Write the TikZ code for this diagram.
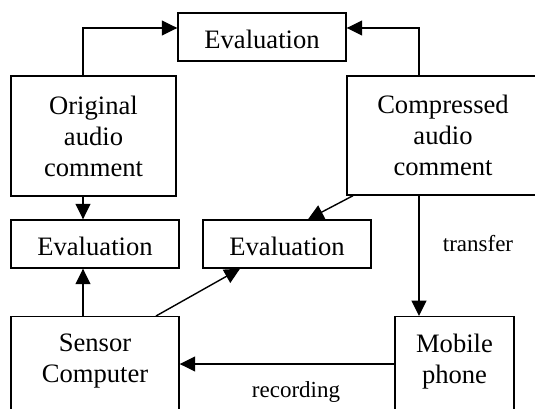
\documentclass[tikz,border=0pt]{standalone}
\usepackage{fontspec}
\setmainfont{Liberation Serif}
\usetikzlibrary{arrows.meta}

\tikzset{
  box/.style={draw, line width=1.4pt, inner sep=0pt, align=center,
    font=\fontsize{26.6}{31}\selectfont},
  evalbox/.style={box, minimum width=168pt, minimum height=48pt,
    text height=23pt, text depth=0pt},
  boxtext/.style={inner sep=0pt, align=center, font=\fontsize{26.6}{31}\selectfont},
  lbl/.style={inner sep=0pt, font=\fontsize{23}{27}\selectfont},
  arr/.style={line width=1.4pt, -{Triangle[length=15.5pt,width=15pt]}},
}

\begin{document}
\begin{tikzpicture}[x=1pt, y=-1pt]
  \useasboundingbox (0,0) rectangle (535,409);
  \clip (0,0) rectangle (535,409);

  % boxes
  \node[evalbox] (evTop) at (262,37) {Evaluation};
  \node[box, minimum width=165pt, minimum height=120pt] (orig) at (93.5,136)
    {Original\\audio\\comment};
  \node[box, minimum width=192pt, minimum height=119pt] (comp) at (443,135.5)
    {Compressed\\audio\\comment};
  \node[evalbox] (evL) at (95,244) {Evaluation};
  \node[evalbox] (evM) at (287,244) {Evaluation};
  \node[box, minimum width=168pt, minimum height=114pt, anchor=north] (sensor) at (95,316) {};
  \node[box, minimum width=119pt, minimum height=114pt, anchor=north] (mobile) at (454.5,316) {};
  \node[boxtext] (sensorText) at (95,361.5) {Sensor\\Computer};
  \node[boxtext] (mobileText) at (454.5,361.4) {Mobile\\phone};

  % connector guides
  \coordinate (colL) at (83,0);
  \coordinate (colR) at (419,0);
  \coordinate (rowTop) at (0,28);
  \coordinate (rowRec) at (0,364);
  \coordinate (cA) at (353,0);
  \coordinate (cB) at (308,0);
  \coordinate (cC) at (156,0);
  \coordinate (cD) at (240,0);

  % connectors
  \draw[arr] (orig.north -| colL) |- (evTop.west |- rowTop);
  \draw[arr] (comp.north -| colR) |- (evTop.east |- rowTop);
  \draw[arr] (orig.south -| colL) -- (evL.north -| colL);
  \draw[arr] (sensor.north -| colL) -- (evL.south -| colL);
  \draw[arr] (comp.south -| cA) -- (evM.north -| cB);
  \draw[arr] (sensor.north -| cC) -- (evM.south -| cD);
  \draw[arr] (comp.south -| colR) -- (mobile.north -| colR);
  \draw[arr] (mobile.west |- rowRec) -- (sensor.east |- rowRec);

  % labels
  \node[lbl] (transferLbl) at (478,244) {transfer};
  \node[lbl] (recordingLbl) at (296,391.7) {recording};
\end{tikzpicture}
\end{document}
